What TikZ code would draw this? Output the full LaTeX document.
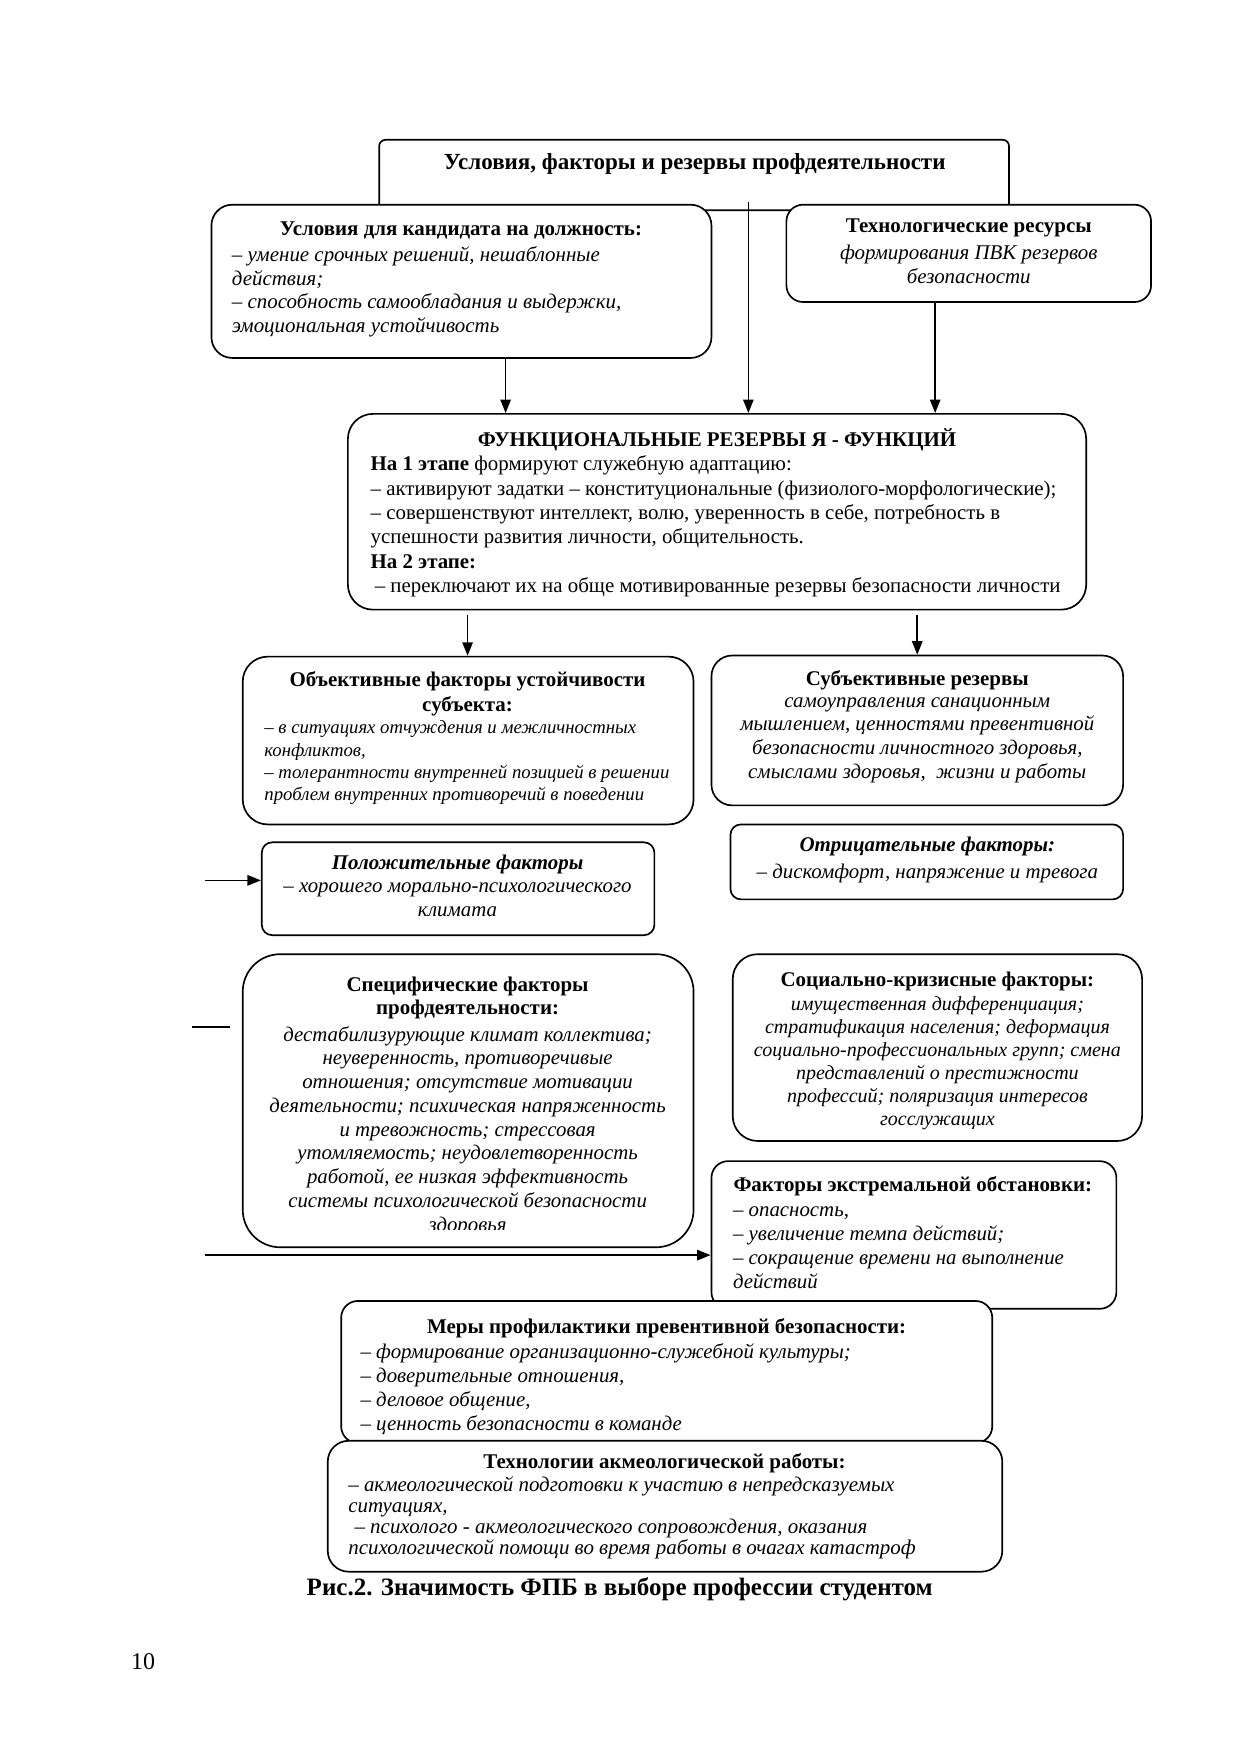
\documentclass[tikz,border=0pt]{standalone}
\usepackage{fontspec}
\setmainfont{Liberation Serif}
\usetikzlibrary{arrows.meta,fit}
\begin{document}
\begin{tikzpicture}[x=0.537pt,y=-0.537pt,
  box/.style={draw,line width=0.8pt,fill=white,inner sep=0pt,rounded corners=#1},
  box/.default=9pt,
  hd/.style={font=\fontsize{10.05}{11.5}\selectfont\bfseries,inner sep=0pt,align=center},
  hdi/.style={font=\fontsize{10.05}{11.5}\selectfont\bfseries\itshape,inner sep=0pt,align=center},
  bd/.style={inner sep=0pt,align=left,anchor=north west},
  bdc/.style={inner sep=0pt,align=center,anchor=north},
  arr/.style={-{Triangle[length=6.5pt,width=5pt]},line width=0.8pt},
  ln/.style={line width=0.8pt}]
\useasboundingbox (0,0) rectangle (1109,1568);

% top box
\node[box=3pt,fit={(339,125) (902,188)}] (top) {};
\node[hd,font=\fontsize{11.05}{13}\selectfont\bfseries] (top-h) at (621,147) {Условия, факторы и резервы профдеятельности};

% left box
\node[box=10pt,fit={(189,183) (636,320)}] (lb) {};
\node[hd] (lb-h) at (412,206) {Условия для кандидата на должность:};
\node[bd,font=\fontsize{10.05}{11.4}\selectfont\itshape] (lb-b) at (207,220) {– умение срочных решений, нешаблонные\\действия;\\– способность самообладания и выдержки,\\эмоциональная устойчивость};

% right box
\node[box=8pt,fit={(703,183) (1029,270)}] (tr) {};
\node[hd] (tr-h) at (866,204) {Технологические ресурсы};
\node[bdc,font=\fontsize{10.05}{11.3}\selectfont\itshape] (tr-b) at (866,219) {формирования ПВК резервов\\безопасности};

% stem from top box
\coordinate (stem) at (669,181);
\coordinate (c1) at (452,0);
\coordinate (c2) at (836,0);

% central box
\node[box=12pt,fit={(311,370) (971,545)}] (fr) {};
\node[hd] (fr-h) at (641,393) {ФУНКЦИОНАЛЬНЫЕ РЕЗЕРВЫ Я - ФУНКЦИЙ};
\node[bd,font=\fontsize{10.02}{11.7}\selectfont] (fr-b) at (331,407) {\textbf{На 1 этапе} формируют служебную адаптацию:\\– активируют задатки – конституциональные (физиолого-морфологические);\\– совершенствуют интеллект, волю, уверенность в себе, потребность в\\успешности развития личности, общительность.\\\textbf{На 2 этапе:}\\\hspace{2pt}– переключают их на обще мотивированные резервы безопасности личности};

\draw[arr] (stem) -- (stem |- fr.north);
\draw[arr] (c1 |- lb.south) -- (c1 |- fr.north);
\draw[arr] (c2 |- tr.south) -- (c2 |- fr.north);

% objective
\node[box=12pt,fit={(217,587) (620,737)}] (ob) {};
\node[hd,font=\fontsize{10.05}{11.8}\selectfont\bfseries] (ob-h) at (418,620) {Объективные факторы устойчивости\\субъекта:};
\node[bd,font=\fontsize{9.0}{10.7}\selectfont\itshape] (ob-b) at (236,644) {– в ситуациях отчуждения и межличностных\\конфликтов,\\– толерантности внутренней позицией в решении\\проблем внутренних противоречий в поведении};

% subjective
\node[box=10pt,fit={(636,586) (1004,720)}] (sr) {};
\node[hd] (sr-h) at (820,608) {Субъективные резервы};
\node[bdc,font=\fontsize{10.0}{11.4}\selectfont\itshape] (sr-b) at (820,623) {самоуправления санационным\\мышлением, ценностями превентивной\\безопасности личностного здоровья,\\смыслами здоровья,\ \ жизни и работы};

\coordinate (d1) at (418,550);
\coordinate (d2) at (820,550);
\draw[arr] (d1) -- (d1 |- ob.north);
\draw[arr] (d2) -- (d2 |- sr.north);

% negative
\node[box=5pt,fit={(653,737) (1004,804)}] (ng) {};
\node[hdi] (ng-h) at (829,757) {Отрицательные факторы:};
\node[bdc,font=\fontsize{10.0}{11.4}\selectfont\itshape] (ng-b) at (829,772) {– дискомфорт, напряжение и тревога};

% positive
\node[box=5pt,fit={(234,753) (585,836)}] (ps) {};
\node[hdi] (ps-h) at (409,773) {Положительные факторы};
\node[bdc,font=\fontsize{10.0}{11.3}\selectfont\itshape] (ps-b) at (409,789) {– хорошего морально-психологического\\климата};
\coordinate (pin) at (183,787);
\draw[arr] (pin) -- (pin -| ps.west);

% specific
\node[box=18pt,fit={(217,853) (620,1115)}] (sp) {};
\node[hd,font=\fontsize{10.05}{11.3}\selectfont\bfseries] (sp-h) at (418,892) {Специфические факторы\\профдеятельности:};
\begin{scope}
\clip (220,905) rectangle (617,1099);
\node[bdc,font=\fontsize{10.0}{11.4}\selectfont\itshape] (sp-b) at (418,917) {дестабилизурующие климат коллектива;\\неуверенность, противоречивые\\отношения; отсутствие мотивации\\деятельности; психическая напряженность\\и тревожность; стрессовая\\утомляемость; неудовлетворенность\\работой, ее низкая эффективность\\системы психологической безопасности\\здоровья};
\end{scope}
\coordinate (sl1) at (172,918);
\coordinate (sl2) at (206,918);
\draw[ln] (sl1) -- (sl2);

% social-crisis
\node[box=12pt,fit={(655,853) (1021,1020)}] (sc) {};
\node[hd] (sc-h) at (838,877) {Социально-кризисные факторы:};
\node[bdc,font=\fontsize{9.6}{11}\selectfont\itshape] (sc-b) at (838,891) {имущественная дифференциация;\\стратификация населения; деформация\\социально-профессиональных групп; смена\\представлений о престижности\\профессий; поляризация интересов\\госслужащих};

% extreme
\node[box=8pt,fit={(636,1038) (998,1170)}] (ex) {};
\node[hd] (ex-h) at (816,1060) {Факторы экстремальной обстановки:};
\node[bd,font=\fontsize{10.0}{11.6}\selectfont\itshape] (ex-b) at (655,1078) {– опасность,\\– увеличение темпа действий;\\– сокращение времени на выполнение\\действий};
\coordinate (ein) at (183,1122);
\draw[arr] (ein) -- (ein -| ex.west);

% measures
\node[box=8pt,fit={(305,1163) (887,1290)}] (me) {};
\node[hd] (me-h) at (596,1187) {Меры профилактики превентивной безопасности:};
\node[bd,font=\fontsize{10.0}{11.4}\selectfont\itshape] (me-b) at (322,1201) {– формирование организационно-служебной культуры;\\– доверительные отношения,\\– деловое общение,\\– ценность безопасности в команде};

% technologies
\node[box=10pt,fit={(293,1288) (896,1405)}] (te) {};
\node[hd] (te-h) at (594,1308) {Технологии акмеологической работы:};
\node[bd,font=\fontsize{10.05}{10}\selectfont\itshape] (te-b) at (311,1320) {– акмеологической подготовки к участию в непредсказуемых\\ситуациях,\\\hspace{3pt}– психолого - акмеологического сопровождения, оказания\\психологической помощи во время работы в очагах катастроф};

% caption and page number
\node[hd,font=\fontsize{12}{14}\selectfont\bfseries] (cap) at (554,1421) {Рис.2. Значимость ФПБ в выборе профессии студентом};
\node[inner sep=0pt,font=\fontsize{11.5}{13}\selectfont] (pg) at (128,1485) {10};
\end{tikzpicture}
\end{document}
